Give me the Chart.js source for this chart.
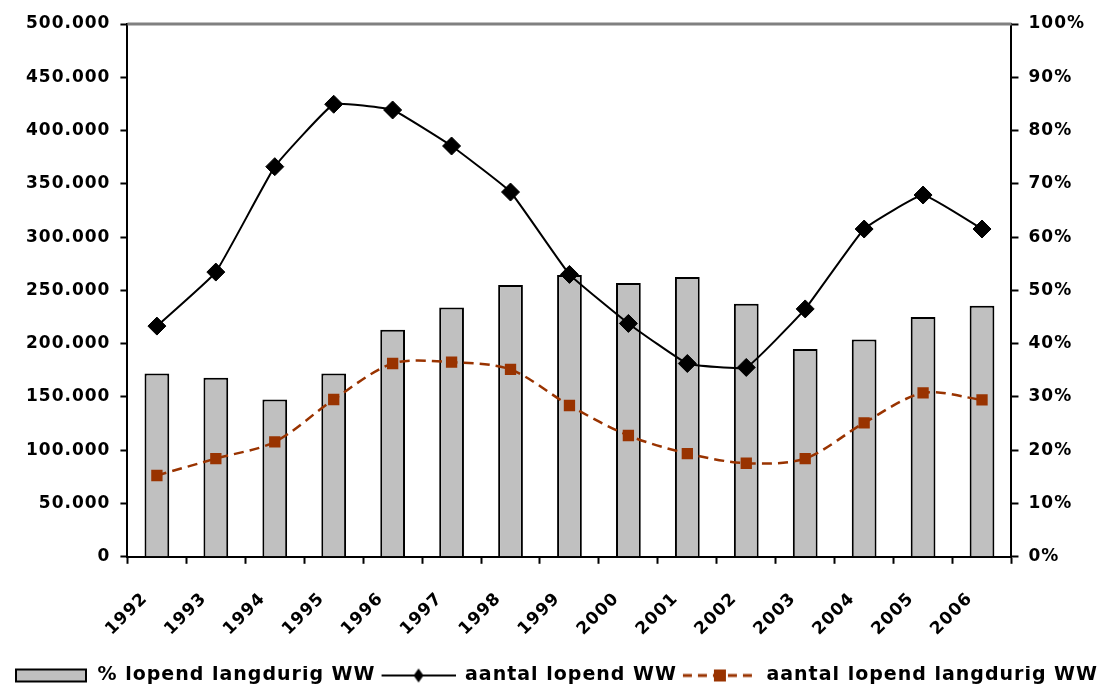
<!DOCTYPE html>
<html>
<head>
<meta charset="utf-8">
<script src="https://cdn.jsdelivr.net/npm/chart.js@4/dist/chart.umd.min.js"></script>
<style>
  html, body { margin: 0; padding: 0; background: #fff; }
  #wrap { width: 1106px; height: 686px; }
</style>
</head>
<body>
<div id="wrap"><canvas id="wwChart"></canvas></div>
<script>
// jaren
const years = ['1992','1993','1994','1995','1996','1997','1998','1999','2000','2001','2002','2003','2004','2005','2006'];

// % lopend langdurig WW (rechter as)
const pctLangdurig = [34.4, 33.6, 29.5, 34.4, 42.6, 46.8, 51.0, 52.9, 51.4, 52.5, 47.5, 39.0, 40.8, 45.0, 47.1];

// aantal lopend WW (linker as)
const aantalWW = [216500, 267200, 366100, 424700, 419300, 385500, 342300, 265000, 219000, 181400, 177700, 232600, 307600, 339500, 307600];

// aantal lopend langdurig WW (linker as)
const aantalLangdurig = [76300, 92200, 107800, 147600, 181400, 182700, 175800, 142000, 113800, 96900, 87800, 92200, 125700, 153800, 147300];

const legendLabels = ['% lopend langdurig WW', 'aantal lopend WW', 'aantal lopend langdurig WW'];

const FONT = { family: '"DejaVu Sans", Verdana, sans-serif', size: 17, weight: 'bold' };
const LEGEND_FONT = { family: '"DejaVu Sans", Verdana, sans-serif', size: 19, weight: 'bold' };
const SPACING = '1px';
const RED = '#993300';
const ICON_GAP = 6;   // empty space left of each legend icon

function fmtThousands(v) {
    return String(v).replace(/\B(?=(\d{3})+(?!\d))/g, '.');
}

// small legend icons drawn on offscreen canvases
function makeIcon(kind) {
    const c = document.createElement('canvas');
    c.width = 74 + ICON_GAP;
    c.height = 20;
    const g = c.getContext('2d');
    g.translate(ICON_GAP, 0);
    if (kind === 'bar') {
        g.fillStyle = '#c0c0c0';
        g.fillRect(2, 4, 70, 12);
        g.strokeStyle = '#000';
        g.lineWidth = 2;
        g.strokeRect(2, 4, 70, 12);
    } else if (kind === 'line') {
        g.strokeStyle = '#000';
        g.lineWidth = 2;
        g.beginPath(); g.moveTo(0, 10); g.lineTo(74, 10); g.stroke();
        g.fillStyle = '#000';
        g.beginPath(); g.moveTo(37, 3); g.lineTo(42, 10); g.lineTo(37, 17); g.lineTo(32, 10); g.closePath(); g.fill();
    } else {
        g.strokeStyle = RED;
        g.lineWidth = 3;
        g.setLineDash([9, 6]);
        g.beginPath(); g.moveTo(0, 10); g.lineTo(74, 10); g.stroke();
        g.fillStyle = RED;
        g.fillRect(31, 4, 12, 12);
    }
    return c;
}
const icons = [makeIcon('bar'), makeIcon('line'), makeIcon('dash')];

// letter spacing + gray top border of the plot area
const stylePlugin = {
    id: 'styleTweaks',
    beforeLayout(chart) { chart.ctx.letterSpacing = SPACING; },
    beforeDraw(chart) { chart.ctx.letterSpacing = SPACING; },
    afterDraw(chart) {
        const { ctx, chartArea } = chart;
        ctx.save();
        ctx.strokeStyle = '#808080';
        ctx.lineWidth = 3;
        ctx.beginPath();
        ctx.moveTo(chartArea.left, chartArea.top);
        ctx.lineTo(chartArea.right, chartArea.top);
        ctx.stroke();
        ctx.restore();
    }
};

const ctx = document.getElementById('wwChart').getContext('2d');
const wwChart = new Chart(ctx, {
    type: 'bar',
    data: {
        labels: years,
        datasets: [
            {
                type: 'bar',
                label: legendLabels[0],
                data: pctLangdurig,
                yAxisID: 'y1',
                backgroundColor: '#c0c0c0',
                borderColor: '#000',
                borderWidth: 2,
                borderSkipped: 'bottom',
                barPercentage: 0.42,
                categoryPercentage: 1.0,
                order: 3
            },
            {
                type: 'line',
                label: legendLabels[1],
                data: aantalWW,
                yAxisID: 'y',
                borderColor: '#000',
                borderWidth: 2,
                backgroundColor: '#000',
                pointStyle: 'rectRot',
                pointRadius: 9,
                pointBorderWidth: 1,
                tension: 0.1,
                fill: false,
                order: 1
            },
            {
                type: 'line',
                label: legendLabels[2],
                data: aantalLangdurig,
                yAxisID: 'y',
                borderColor: RED,
                borderWidth: 2.5,
                borderDash: [10, 6],
                backgroundColor: RED,
                pointStyle: 'rect',
                pointRadius: 8,
                pointBorderWidth: 0,
                tension: 0.3,
                fill: false,
                order: 2
            }
        ]
    },
    options: {
        responsive: true,
        maintainAspectRatio: false,
        animation: false,
        layout: { padding: { left: 0, right: 0, top: 24, bottom: -9 } },
        plugins: {
            tooltip: { enabled: false },
            legend: {
                position: 'bottom',
                labels: {
                    color: '#000',
                    font: LEGEND_FONT,
                    usePointStyle: true,
                    pointStyleWidth: 74 + ICON_GAP,
                    padding: 0,
                    generateLabels: (chart) => chart.data.datasets.map((ds, i) => ({
                        text: ds.label,
                        pointStyle: icons[i],
                        fillStyle: 'transparent',
                        strokeStyle: 'transparent',
                        lineWidth: 0,
                        datasetIndex: i,
                        hidden: false
                    }))
                }
            }
        },
        scales: {
            x: {
                offset: true,
                grid: {
                    display: true,
                    offset: true,
                    drawOnChartArea: false,
                    drawTicks: true,
                    tickLength: 7,
                    tickColor: '#000',
                    tickWidth: 2
                },
                border: { display: true, color: '#000', width: 2 },
                ticks: {
                    color: '#000',
                    font: FONT,
                    minRotation: 45,
                    maxRotation: 45,
                    labelOffset: -12,
                    padding: 25
                },
                afterFit: (scale) => { scale.height += 1.5; }
            },
            y: {
                position: 'left',
                min: 0,
                max: 500000,
                ticks: {
                    stepSize: 50000,
                    color: '#000',
                    font: FONT,
                    padding: 10,
                    callback: (v) => fmtThousands(v)
                },
                grid: {
                    display: true,
                    drawOnChartArea: false,
                    drawTicks: true,
                    tickLength: 7,
                    tickColor: '#000',
                    tickWidth: 2
                },
                border: { display: true, color: '#000', width: 2 },
                afterFit: (scale) => { scale.width += 16; }
            },
            y1: {
                position: 'right',
                min: 0,
                max: 100,
                ticks: {
                    stepSize: 10,
                    color: '#000',
                    font: FONT,
                    padding: 10,
                    callback: (v) => v + '%'
                },
                grid: {
                    display: true,
                    drawOnChartArea: false,
                    drawTicks: true,
                    tickLength: 7,
                    tickColor: '#000',
                    tickWidth: 2
                },
                border: { display: true, color: '#000', width: 2 },
                afterFit: (scale) => { scale.width += 11; }
            }
        }
    },
    plugins: [stylePlugin]
});
</script>
</body>
</html>
